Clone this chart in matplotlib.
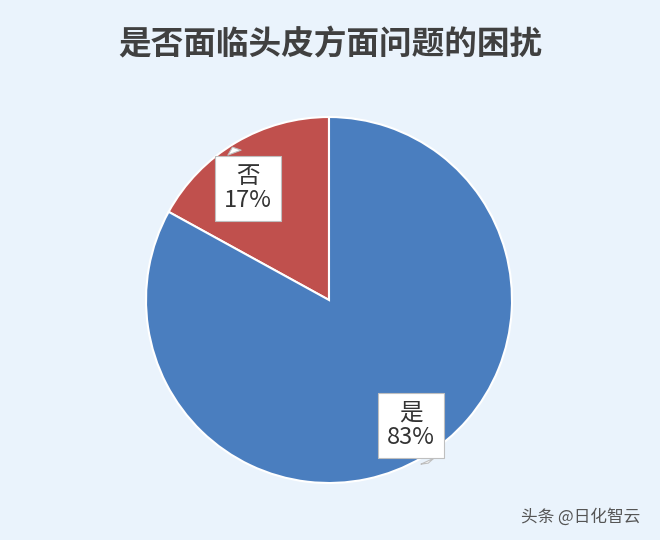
import matplotlib
matplotlib.use("Agg")
import matplotlib.pyplot as plt
import numpy as np

plt.rcParams['font.family'] = ['Noto Sans CJK SC', 'DejaVu Sans']

# 数据
labels = ['否', '是']
shares = [17, 83]
colors = ['#C0504D', '#4A7EBF']
title = '是否面临头皮方面问题的困扰'
credit = '头条 @日化智云'

bg = '#EAF3FC'

fig = plt.figure(figsize=(6.6, 5.4), dpi=100, facecolor=bg)
ax = fig.add_axes([0, 0, 1, 1])
ax.set_facecolor(bg)

wedges, texts = ax.pie(shares, colors=colors, startangle=90, counterclock=True,
                       radius=1.0, labels=None,
                       wedgeprops=dict(edgecolor='white', linewidth=1.5))

# 标签（带小尖角的白色框）
shift = {'否': 3.5, '是': 4}
drop = {'否': 0.045, '是': 0.035}
tip = {'否': (-0.09, 0.24), '是': (0.10, -0.22)}
for w, lab, s in zip(wedges, labels, shares):
    ang = np.deg2rad((w.theta1 + w.theta2) / 2 + shift[lab])
    r = 0.79
    x, y = r * np.cos(ang), r * np.sin(ang) - drop[lab]
    ax.annotate('%s\n%d%%' % (lab, s),
                xy=(x + tip[lab][0], y + tip[lab][1]), xytext=(x, y),
                ha='center', va='center', fontsize=17, color='#333333',
                linespacing=1.1,
                bbox=dict(boxstyle='square,pad=0.38', fc='white', ec='#BFBFBF', lw=0.8),
                arrowprops=dict(arrowstyle='wedge,tail_width=0.6,shrink_factor=0.5',
                                fc='white', ec='#BFBFBF', lw=0.8))

ax.set_aspect('equal')
ax.set_xlim(-329 / 183, (660 - 329) / 183)
ax.set_ylim((300 - 540) / 183, 300 / 183)
ax.axis('off')

fig.text(0.5, 1 - 45 / 540, title, ha='center', va='center', fontsize=23.5,
         fontweight='bold', color='#404040')
fig.text(0.97, 1 - 517 / 540, credit, ha='right', va='center', fontsize=12,
         color='#555555')

fig.savefig('out.png', dpi=100, facecolor=bg)
